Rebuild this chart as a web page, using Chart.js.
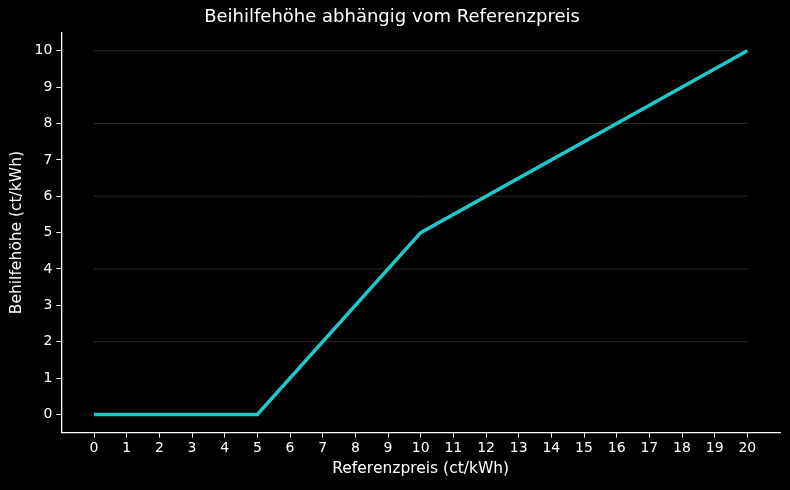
<!DOCTYPE html>
<html><head><meta charset="utf-8">
<script src="https://cdn.jsdelivr.net/npm/chart.js@4"></script>
<style>html,body{margin:0;background:#000}#c{width:790px;height:490px}</style>
</head><body><div id="c"><canvas id="chart"></canvas></div>
<script>
var xs = [0, 5, 10, 20];
var ys = [0, 0, 5, 10];
var gridY = [2, 4, 6, 8, 10];

var pts = xs.map(function(x, i){ return {x: x, y: ys[i]}; });

var gridPlugin = {
  id: 'partialGrid',
  beforeDatasetsDraw: function(chart){
    var ctx = chart.ctx, sx = chart.scales.x, sy = chart.scales.y;
    ctx.save();
    ctx.strokeStyle = 'rgba(255,255,255,0.22)';
    ctx.lineWidth = 0.8;
    gridY.forEach(function(v){
      var py = sy.getPixelForValue(v);
      ctx.beginPath();
      ctx.moveTo(sx.getPixelForValue(0), py);
      ctx.lineTo(sx.getPixelForValue(20), py);
      ctx.stroke();
    });
    ctx.restore();
  }
};
var bgPlugin = {
  id: 'bg',
  beforeDraw: function(chart){
    var ctx = chart.ctx;
    ctx.save(); ctx.fillStyle = '#000'; ctx.fillRect(0,0,chart.width,chart.height); ctx.restore();
  }
};

new Chart(document.getElementById('chart'), {
  type: 'line',
  data: { datasets: [{ data: pts, borderColor: '#22c7cc', borderWidth: 3.5, pointRadius: 0, tension: 0 }] },
  options: {
    responsive: true, maintainAspectRatio: false, animation: false,
    layout: { padding: { left: 4, right: 10, top: 0, bottom: 8 } },
    plugins: {
      legend: { display: false },
      title: { display: true, text: 'Beihilfehöhe abhängig vom Referenzpreis', color: '#fff',
               font: { family: 'DejaVu Sans', size: 18, weight: 'normal' }, padding: { top: 7, bottom: 4 } },
      tooltip: { enabled: false }
    },
    scales: {
      x: {
        type: 'linear', min: -1, max: 21,
        afterBuildTicks: function(s){ var t=[]; for (var i=0;i<=20;i++) t.push({value:i}); s.ticks=t; },
        grid: { display: true, drawOnChartArea: false, drawTicks: true, tickColor: '#fff', tickLength: 5 },
        border: { color: '#fff', width: 1.3 },
        ticks: { color: '#fff', font: { family: 'DejaVu Sans', size: 14 }, padding: 2, maxRotation: 0, autoSkip: false },
        title: { display: true, text: 'Referenzpreis (ct/kWh)', color: '#fff', font: { family: 'DejaVu Sans', size: 15.5 }, padding: { top: 1 } }
      },
      y: {
        type: 'linear', min: -0.5, max: 10.5,
        afterBuildTicks: function(s){ var t=[]; for (var i=0;i<=10;i++) t.push({value:i}); s.ticks=t; },
        grid: { display: true, drawOnChartArea: false, drawTicks: true, tickColor: '#fff', tickLength: 5 },
        border: { color: '#fff', width: 1.3 },
        ticks: { color: '#fff', font: { family: 'DejaVu Sans', size: 14 }, padding: 4 },
        title: { display: true, text: 'Behilfehöhe (ct/kWh)', color: '#fff', font: { family: 'DejaVu Sans', size: 15.5 } }
      }
    }
  },
  plugins: [bgPlugin, gridPlugin]
});
</script>
</body></html>
